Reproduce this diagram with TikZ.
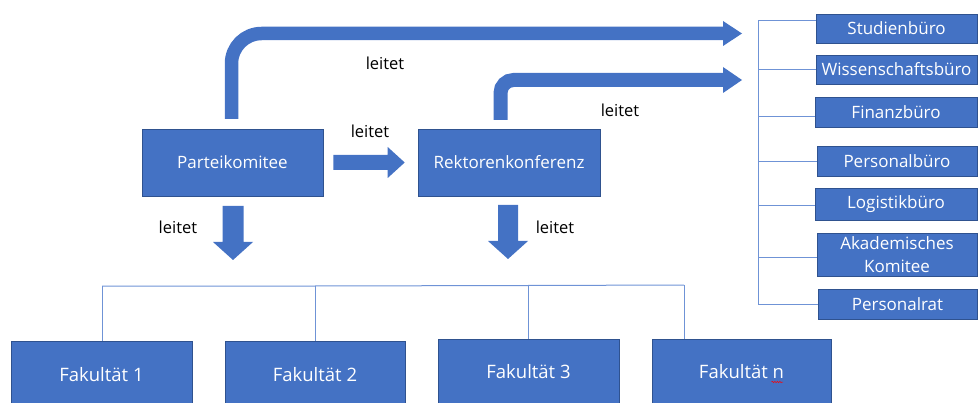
\documentclass[tikz,border=0pt]{standalone}
\usepackage{fontspec}
\setmainfont{Open Sans}
\usetikzlibrary{calc,decorations.pathmorphing}
\definecolor{boxblue}{HTML}{4472C4}
\definecolor{boxedge}{HTML}{2F528F}
\definecolor{linkblue}{HTML}{6F93D6}
\begin{document}
\begin{tikzpicture}[x=1pt,y=-1pt,
  box/.style={draw=boxedge, line width=0.6pt, fill=boxblue, text=white, inner sep=0pt,
              align=center, font=\fontsize{17}{22}\selectfont},
  facbox/.style={box, font=\fontsize{18.5}{22}\selectfont},
  lbl/.style={text=black, inner sep=0pt, font=\fontsize{16.5}{20}\selectfont},
  link/.style={draw=linkblue, line width=1pt},
  bent/.style={draw=boxblue, line width=13.5pt},
  blockfill/.style={fill=boxblue, draw=none}]
\useasboundingbox (0,0) rectangle (979,403);
\clip (0,0) rectangle (979,403);

% main boxes
\node[box, minimum width=181pt, minimum height=67pt] (parte) at (232.5,162.5) {Parteikomitee};
\node[box, minimum width=182pt, minimum height=67pt] (rekt) at (509,162.5) {Rektorenkonferenz};

% right column
\node[box, minimum width=161pt, minimum height=29pt] (stud) at (896.5,28.5) {Studienbüro};
\node[box, minimum width=161pt, minimum height=29pt] (wiss) at (896.5,69.5) {Wissenschaftsbüro};
\node[box, minimum width=162pt, minimum height=30pt] (fin)  at (896,112) {Finanzbüro};
\node[box, minimum width=160pt, minimum height=30pt] (pers) at (897,161) {Personalbüro};
\node[box, minimum width=162pt, minimum height=32pt] (logi) at (896,204) {Logistikbüro};
\node[box, minimum width=160pt, minimum height=43pt, font=\fontsize{17}{22.5}\selectfont] (akad) at (897,254.5) {Akademisches\\Komitee};
\node[box, minimum width=159pt, minimum height=30pt] (prat) at (897.5,304) {Personalrat};

% faculties
\node[facbox, minimum width=181pt, minimum height=68pt] (f1) at (101.5,375) {Fakultät 1};
\node[facbox, minimum width=180pt, minimum height=68pt] (f2) at (315,375) {Fakultät 2};
\node[facbox, minimum width=181pt, minimum height=66pt] (f3) at (528.5,372) {Fakultät 3};
\node[facbox, minimum width=179pt, minimum height=66pt] (fn) at (741.5,372) {Fakultät n};
\draw[red, line width=0.5pt, decorate, decoration={snake, amplitude=0.7pt, segment length=2.5pt}]
  ($(fn.center)+(30,10)$) -- ($(fn.center)+(41.5,10)$);

% right bus
\coordinate (r1) at (758,21);
\coordinate (r2) at (758,70);
\coordinate (r3) at (758,117);
\coordinate (r4) at (758,162);
\coordinate (r5) at (758,206);
\coordinate (r6) at (758,258);
\coordinate (r7) at (758,304);
\draw[link] (r1) -- (r7);
\foreach \c/\n in {r1/stud,r2/wiss,r3/fin,r4/pers,r5/logi,r6/akad,r7/prat}
  \draw[link] (\c) -- (\n.west |- \c);

% bottom bus
\coordinate (b1) at (102,286);
\coordinate (b2) at (315,286);
\coordinate (b3) at (528,285.5);
\coordinate (b4) at (684,285);
\draw[link] (b1) -- (b2) -- (b3) -- (b4);
\draw[link] (b1) -- (b1 |- f1.north);
\draw[link] (b2) -- (b2 |- f2.north);
\draw[link] (b3) -- (b3 |- f3.north);
\draw[link] (b4) -- (b4 |- fn.north);

% bent arrow from Parteikomitee
\coordinate (pa0) at (231.5,119);
\coordinate (pa1) at (724,33.5);
\draw[bent, rounded corners=30pt] (pa0) |- (pa1);
\fill[blockfill] ($(pa1)+(-1,-12.5)$) -- ($(pa1)+(18,0)$) -- ($(pa1)+(-1,12.5)$) -- cycle;

% bent arrow from Rektorenkonferenz
\coordinate (ra0) at (500.5,120);
\coordinate (ra1) at (724,80);
\draw[bent, line width=14pt, rounded corners=13pt] (ra0) |- (ra1);
\fill[blockfill] ($(ra1)+(-1,-13)$) -- ($(ra1)+(18,0)$) -- ($(ra1)+(-1,13)$) -- cycle;

% horizontal block arrow
\coordinate (ha) at ($(parte.east)+(10,0)$);
\coordinate (hb) at ($(rekt.west)+(-13,0)$);
\fill[blockfill] ($(ha)+(0,-7.5)$) -- ($(hb)+(-17,-7.5)$) -- ($(hb)+(-17,-15.5)$) -- (hb)
  -- ($(hb)+(-17,15.5)$) -- ($(hb)+(-17,7.5)$) -- ($(ha)+(0,7.5)$) -- cycle;

% down block arrows
\coordinate (da) at (233,206);
\coordinate (db) at (233,260);
\fill[blockfill] ($(da)+(-10.5,0)$) -- ($(da)+(10.5,0)$) -- ($(db)+(10.5,-18)$) -- ($(db)+(20,-18)$)
  -- (db) -- ($(db)+(-20,-18)$) -- ($(db)+(-10.5,-18)$) -- cycle;
\coordinate (dc) at (508,205);
\coordinate (dd) at (508,259);
\fill[blockfill] ($(dc)+(-10,0)$) -- ($(dc)+(10,0)$) -- ($(dd)+(10,-18)$) -- ($(dd)+(20,-18)$)
  -- (dd) -- ($(dd)+(-20,-18)$) -- ($(dd)+(-10,-18)$) -- cycle;

% labels
\node[lbl] (l1) at (385,63) {leitet};
\node[lbl] (l2) at (620,110) {leitet};
\node[lbl] (l3) at (370,131.5) {leitet};
\node[lbl] (l4) at (178,227) {leitet};
\node[lbl] (l5) at (555,227) {leitet};
\end{tikzpicture}
\end{document}
